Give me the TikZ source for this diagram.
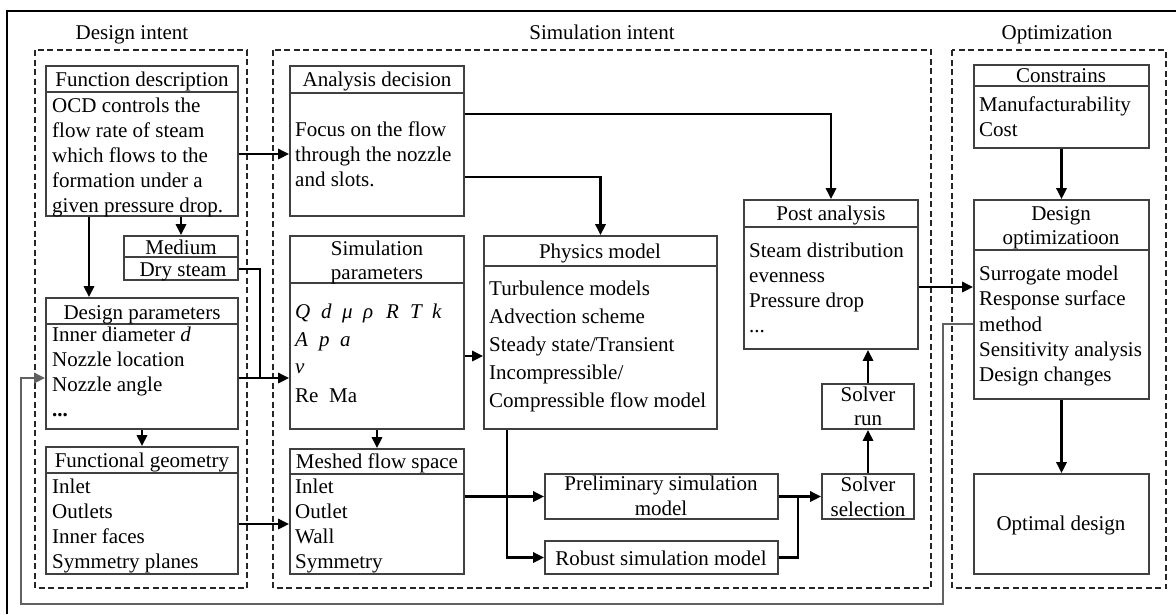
\documentclass[tikz,border=0pt]{standalone}
\usepackage{fontspec}
\setmainfont{Liberation Serif}
\usetikzlibrary{arrows.meta,fit}
\begin{document}
\begin{tikzpicture}[x=1pt,y=-1pt,
  box/.style={draw=black!75,line width=1.6pt,inner sep=0pt},
  divider/.style={draw=black!75,line width=1.6pt},
  group/.style={draw=black!85,line width=1.3pt,dash pattern=on 6pt off 3.5pt},
  txt/.style={anchor=base west,inner sep=0pt,font=\fontsize{21}{25}\selectfont,text=black},
  ctxt/.style={anchor=base,inner sep=0pt,font=\fontsize{21}{25}\selectfont,text=black},
  arr/.style={draw=black,line width=2.6pt,-{Triangle[length=11pt,width=10pt]}},
  conn/.style={draw=black,line width=2.6pt},
  fb/.style={draw=black!62,line width=2.6pt,-{Triangle[length=11pt,width=10pt]}}]
\useasboundingbox (0,0) rectangle (1176,614);

% frame
\draw[line width=2.4pt] (7,614) -- (7,11) -- (1176,11);

% group borders and titles
\draw[group] (35,50) rectangle (247,588);
\draw[group] (273,50) rectangle (931,588);
\draw[group] (952,50) rectangle (1166,588);
\node[ctxt] at (132,39) {Design intent};
\node[ctxt] at (602,39) {Simulation intent};
\node[ctxt] at (1057,39) {Optimization};

% ---------- Design intent ----------
\node[box,fit={(46,66)(238,216)}] (fd) {};
\draw[divider] (fd.west |- 0,92) -- (fd.east |- 0,92);
\node[ctxt] at (142,86) {Function description};
\node[txt] at (52,112) {OCD controls the};
\node[txt] at (52,137) {flow rate of steam};
\node[txt] at (52,162) {which flows to the};
\node[txt] at (52,187) {formation under a};
\node[txt] at (52,212) {given pressure drop.};

\node[box,fit={(124,236)(238,280)}] (med) {};
\draw[divider] (med.west |- 0,257) -- (med.east |- 0,257);
\node[ctxt] at (181,254) {Medium};
\node[ctxt] at (183,276) {Dry steam};

\node[box,fit={(46,298)(238,429)}] (dp) {};
\draw[divider] (dp.west |- 0,324) -- (dp.east |- 0,324);
\node[ctxt] at (142,319) {Design parameters};
\node[txt] at (52,341) {Inner diameter \textit{d}};
\node[txt] at (52,366) {Nozzle location};
\node[txt] at (52,391) {Nozzle angle};
\node[txt] at (52,416) {\textbf{...}};

\node[box,fit={(46,447)(238,574)}] (fg) {};
\draw[divider] (fg.west |- 0,473) -- (fg.east |- 0,473);
\node[ctxt] at (142,467) {Functional geometry};
\node[txt] at (52,493) {Inlet};
\node[txt] at (52,518) {Outlets};
\node[txt] at (52,543) {Inner faces};
\node[txt] at (52,568) {Symmetry planes};

% ---------- Simulation intent ----------
\node[box,fit={(290,66)(464,216)}] (ad) {};
\draw[divider] (ad.west |- 0,93) -- (ad.east |- 0,93);
\node[ctxt] at (377,86) {Analysis decision};
\node[txt] at (295,136) {Focus on the flow};
\node[txt] at (295,161) {through the nozzle};
\node[txt] at (295,186) {and slots.};

\node[box,fit={(290,236)(464,429)}] (sp) {};
\draw[divider] (sp.west |- 0,283) -- (sp.east |- 0,283);
\node[ctxt] at (377,255) {Simulation};
\node[ctxt] at (377,279) {parameters};
\node[txt] at (295,318) {\textit{Q}};
\node[txt] at (321,318) {\textit{d}};
\node[txt] at (342,318) {\textit{μ}};
\node[txt] at (363,318) {\textit{ρ}};
\node[txt] at (386,318) {\textit{R}};
\node[txt] at (410,318) {\textit{T}};
\node[txt] at (432,318) {\textit{k}};
\node[txt] at (295,346) {\textit{A}};
\node[txt] at (319,346) {\textit{p}};
\node[txt] at (340,346) {\textit{a}};
\node[txt] at (295,373) {\textit{v}};
\node[txt] at (295,402) {Re};
\node[txt] at (329,402) {Ma};

\node[box,fit={(290,449)(464,574)}] (mfs) {};
\draw[divider] (mfs.west |- 0,474) -- (mfs.east |- 0,474);
\node[ctxt] at (377,468) {Meshed flow space};
\node[txt] at (295,493) {Inlet};
\node[txt] at (295,518) {Outlet};
\node[txt] at (295,543) {Wall};
\node[txt] at (295,568) {Symmetry};

\node[box,fit={(484,236)(717,429)}] (pm) {};
\draw[divider] (pm.west |- 0,266) -- (pm.east |- 0,266);
\node[ctxt] at (600,258) {Physics model};
\node[txt] at (489,295) {Turbulence models};
\node[txt] at (489,323) {Advection scheme};
\node[txt] at (489,351) {Steady state/Transient};
\node[txt] at (489,379) {Incompressible/};
\node[txt] at (489,407) {Compressible flow model};

\node[box,fit={(545,474)(778,519)}] (psm) {};
\node[ctxt] at (661,490) {Preliminary simulation};
\node[ctxt] at (661,515) {model};

\node[box,fit={(545,541)(778,574)}] (rsm) {};
\node[ctxt] at (661,565) {Robust simulation model};

\node[box,fit={(822,474)(914,519)}] (ss) {};
\node[ctxt] at (868,491) {Solver};
\node[ctxt] at (868,516) {selection};

\node[box,fit={(822,384)(914,429)}] (sr) {};
\node[ctxt] at (868,401) {Solver};
\node[ctxt] at (868,425) {run};

\node[box,fit={(744,200)(918,349)}] (pa) {};
\draw[divider] (pa.west |- 0,227) -- (pa.east |- 0,227);
\node[ctxt] at (831,220) {Post analysis};
\node[txt] at (749,257) {Steam distribution};
\node[txt] at (749,282) {evenness};
\node[txt] at (749,307) {Pressure drop};
\node[txt] at (749,332) {...};

% ---------- Optimization ----------
\node[box,fit={(974,65)(1149,148)}] (cons) {};
\draw[divider] (cons.west |- 0,86) -- (cons.east |- 0,86);
\node[ctxt] at (1061,82) {Constrains};
\node[txt] at (979,111) {Manufacturability};
\node[txt] at (979,136) {Cost};

\node[box,fit={(974,200)(1149,399)}] (dopt) {};
\draw[divider] (dopt.west |- 0,250) -- (dopt.east |- 0,250);
\node[ctxt] at (1061,220) {Design};
\node[ctxt] at (1061,244) {optimizatioon};
\node[txt] at (979,280) {Surrogate model};
\node[txt] at (979,305) {Response surface};
\node[txt] at (979,331) {method};
\node[txt] at (979,356) {Sensitivity analysis};
\node[txt] at (979,381) {Design changes};

\node[box,fit={(974,474)(1149,574)}] (od) {};
\node[ctxt] at (1061,530) {Optimal design};

% ---------- connectors ----------
\coordinate (j1) at (260,378);
\coordinate (j2) at (798,497);
\coordinate (f1) at (943,604);
\coordinate (f2) at (21,378);

\draw[arr] (fd.east |- 0,154) -- (ad.west |- 0,154);
\draw[arr] (fd.south -| 89,0) -- (dp.north -| 89,0);
\draw[arr] (fd.south -| med.north) -- (med.north);
\draw[conn] (med.east |- 0,269) -| (j1);
\draw[arr] (dp.east |- 0,378) -- (sp.west |- 0,378);
\draw[arr] (dp.south) -- (fg.north);
\draw[arr] (fg.east |- 0,524) -- (mfs.west |- 0,524);
\draw[arr] (ad.east |- 0,114) -| (pa.north);
\draw[arr] (ad.east |- 0,177) -| (pm.north);
\draw[arr] (sp.south) -- (mfs.north);
\draw[arr] (sp.east |- 0,356) -- (pm.west |- 0,356);
\draw[arr] (mfs.east |- psm.west) -- (psm.west);
\draw[arr] (pm.south -| 507,0) |- (rsm.west);
\draw[arr] (psm.east) -- (ss.west);
\draw[conn] (rsm.east) -| (j2);
\draw[arr] (ss.north) -- (sr.south);
\draw[arr] (sr.north) -- (pa.south -| sr.north);
\draw[arr] (pa.east |- 0,287) -- (dopt.west |- 0,287);
\draw[arr] (cons.south) -- (dopt.north);
\draw[arr] (dopt.south) -- (od.north);
\draw[fb] (dopt.west |- 0,324) -| (f1) -| (f2) -- (dp.west |- 0,378);
\end{tikzpicture}
\end{document}
